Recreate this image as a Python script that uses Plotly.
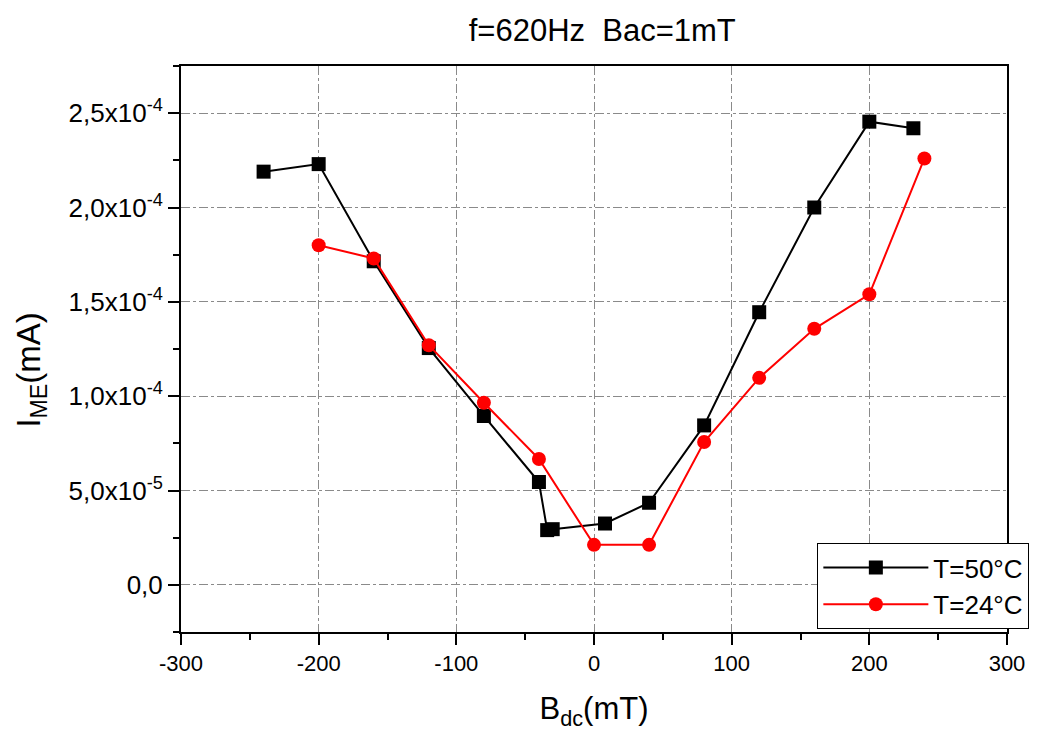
"""I_ME vs B_dc at two temperatures."""

import plotly.graph_objects as go

# T = 50 °C (black squares)
b_50 = [-240, -200, -160, -120, -80, -40, -34, -30, 8, 40, 80, 120, 160, 200, 232]
i_50 = [2.19e-4, 2.23e-4, 1.715e-4, 1.255e-4, 0.895e-4, 0.545e-4, 0.29e-4, 0.295e-4,
        0.325e-4, 0.435e-4, 0.845e-4, 1.445e-4, 2.0e-4, 2.455e-4, 2.42e-4]

# T = 24 °C (red circles)
b_24 = [-200, -160, -120, -80, -40, 0, 40, 80, 120, 160, 200, 240]
i_24 = [1.80e-4, 1.73e-4, 1.27e-4, 0.965e-4, 0.667e-4, 0.212e-4, 0.212e-4,
        0.757e-4, 1.097e-4, 1.357e-4, 1.54e-4, 2.26e-4]

y_tickvals = [0, 5e-5, 1e-4, 1.5e-4, 2e-4, 2.5e-4]
y_ticktext = ["0,0", "5,0x10<sup>-5</sup>", "1,0x10<sup>-4</sup>",
              "1,5x10<sup>-4</sup>", "2,0x10<sup>-4</sup>", "2,5x10<sup>-4</sup>"]
x_tickvals = [-300, -200, -100, 0, 100, 200, 300]
x_ticktext = ["-300", "-200", "-100", "0", "100", "200", "300"]

FONT = "Liberation Sans, Arial, sans-serif"

fig = go.Figure()
fig.add_trace(go.Scatter(
    x=b_50, y=i_50, name="T=50°C", mode="lines+markers",
    line=dict(color="black", width=2),
    marker=dict(symbol="square", size=14, color="black"),
))
fig.add_trace(go.Scatter(
    x=b_24, y=i_24, name="T=24°C", mode="lines+markers",
    line=dict(color="#ff0000", width=2),
    marker=dict(symbol="circle", size=14, color="#ff0000"),
))

axis_common = dict(
    showline=True, linecolor="black", linewidth=2, mirror=True, automargin=False,
    ticks="outside", ticklen=11, tickwidth=2, tickcolor="black",
    showgrid=True, gridcolor="#8a8a8a", gridwidth=1, griddash="dashdot",
    zeroline=False,
)

fig.update_xaxes(
    **axis_common, range=[-300, 300], tickmode="array",
    tickvals=x_tickvals, ticktext=x_ticktext,
    tickfont=dict(family=FONT, size=22, color="black"),
    minor=dict(tickmode="linear", tick0=-250, dtick=100, ticks="outside",
               ticklen=6, tickwidth=2, tickcolor="black", showgrid=False),
    title=dict(text="B<sub>dc</sub>(mT)", font=dict(family=FONT, size=31, color="black"),
               standoff=22),
)
fig.update_yaxes(
    **axis_common, range=[-2.5e-5, 2.75e-4], tickmode="array",
    tickvals=y_tickvals, ticktext=y_ticktext,
    tickfont=dict(family=FONT, size=26, color="black"),
    minor=dict(tickmode="linear", tick0=2.5e-5, dtick=5e-5, ticks="outside",
               ticklen=6, tickwidth=2, tickcolor="black", showgrid=False),
)

# y-axis title placed by hand (it sits a little below the plot centre)
fig.add_annotation(
    text="I<sub>ME</sub>(mA)", textangle=-90, showarrow=False,
    xref="paper", yref="paper", x=-0.182, y=0.463,
    xanchor="center", yanchor="middle",
    font=dict(family=FONT, size=33, color="black"),
)

fig.update_layout(
    width=1041, height=731,
    margin=dict(l=181, r=28, t=66, b=99),
    paper_bgcolor="white", plot_bgcolor="white",
    title=dict(text="f=620Hz  Bac=1mT", x=0.51, xref="paper", xanchor="center",
               y=0.959, yref="container", yanchor="middle",
               font=dict(family=FONT, size=31, color="black")),
    legend=dict(x=0.7704, y=0.0053, xanchor="left", yanchor="bottom",
                bgcolor="white", bordercolor="black", borderwidth=1,
                font=dict(family=FONT, size=26, color="black"),
                itemwidth=105, tracegroupgap=0),
    showlegend=True,
)

# drop the default body margin so the figure fills the window exactly
fig.write_html("out.html", config={"displayModeBar": False},
               post_script="document.body.style.margin='0';")
